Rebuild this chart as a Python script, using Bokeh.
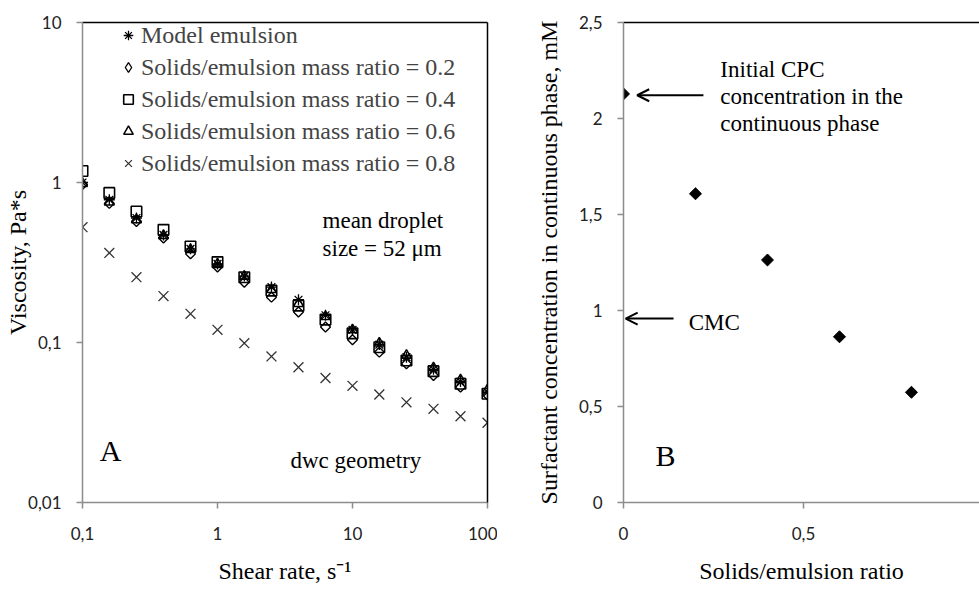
from bokeh.plotting import figure
from bokeh.models import (Range1d, FixedTicker, CustomJSTickFormatter, LogAxis, LinearAxis,
                          Legend, LegendItem, Label, Arrow, OpenHead)
from bokeh.layouts import row
from bokeh.embed import file_html
from bokeh.resources import INLINE
import numpy as np

# ---------------- data ----------------
shear_rate = [0.1, 0.158, 0.251, 0.398, 0.631, 1, 1.58, 2.51, 3.98, 6.31, 10, 15.8, 25.1, 39.8, 63.1, 100]
visc_model = [1.00, 0.78, 0.60, 0.47, 0.385, 0.31, 0.26, 0.222, 0.185, 0.148, 0.12, 0.097, 0.081, 0.068, 0.057, 0.049]
visc_r02 = [0.97, 0.74, 0.57, 0.45, 0.358, 0.296, 0.238, 0.192, 0.155, 0.125, 0.104, 0.087, 0.0736, 0.0622, 0.0526, 0.047]
visc_r04 = [1.18, 0.861, 0.659, 0.506, 0.398, 0.318, 0.256, 0.211, 0.170, 0.139, 0.114, 0.0934, 0.0772, 0.0662, 0.0552, 0.0478]
visc_r06 = [0.985, 0.753, 0.585, 0.466, 0.38, 0.31, 0.259, 0.214, 0.175, 0.145, 0.12, 0.099, 0.083, 0.0695, 0.0584, 0.0506]
visc_r08 = [0.526, 0.363, 0.256, 0.195, 0.151, 0.12, 0.099, 0.0818, 0.070, 0.060, 0.0536, 0.0473, 0.0423, 0.0385, 0.0346, 0.0315]

series_labels = ["Model emulsion",
                 "Solids/emulsion mass ratio = 0.2",
                 "Solids/emulsion mass ratio = 0.4",
                 "Solids/emulsion mass ratio = 0.6",
                 "Solids/emulsion mass ratio = 0.8"]

solids_ratio = [0, 0.2, 0.4, 0.6, 0.8]
surfactant_conc = [2.128, 1.608, 1.263, 0.863, 0.574]

x_ticks_a = [0.1, 1, 10, 100]
y_ticks_a = [0.01, 0.1, 1, 10]
x_ticks_b = [0, 0.5, 1]
y_ticks_b = [0, 0.5, 1, 1.5, 2, 2.5]

SERIF = "Liberation Serif"
SANS = "Lato"
AXIS_GRAY = "#8c8c8c"
fmt = CustomJSTickFormatter(code="return tick.toString().replace('.', ',');")


def style_axes(p, xt, yt, xstand, ystand, xlabstand, ylabstand):
    for ax in p.xaxis + p.yaxis:
        ax.axis_line_color = AXIS_GRAY
        ax.axis_line_width = 1.5
        ax.major_tick_line_color = AXIS_GRAY
        ax.major_tick_line_width = 1.5
        ax.major_tick_out = 6
        ax.major_tick_in = 0
        ax.minor_tick_line_color = None
        ax.major_label_text_font = SANS
        ax.major_label_text_font_size = "17px"
        ax.major_label_text_color = "#222222"
        ax.axis_label_text_font = SERIF
        ax.axis_label_text_font_size = "24px"
        ax.axis_label_text_font_style = "normal"
        ax.axis_label_text_color = "black"
        ax.formatter = fmt
    p.xaxis.ticker = FixedTicker(ticks=xt, minor_ticks=[])
    p.yaxis.ticker = FixedTicker(ticks=yt, minor_ticks=[])
    p.xaxis.major_label_standoff = xstand
    p.yaxis.major_label_standoff = ystand
    p.xaxis.axis_label_standoff = xlabstand
    p.yaxis.axis_label_standoff = ylabstand


def border_axis(cls, p, side):
    ax = cls(ticker=FixedTicker(ticks=[]), axis_line_color="black", axis_line_width=1.5,
             major_tick_line_color=None, minor_tick_line_color=None,
             major_label_text_font_size="0px", major_label_standoff=0,
             major_tick_out=0, major_tick_in=0)
    p.add_layout(ax, side)


H = 590

# ---------------- panel A ----------------
pa = figure(width=497, height=H, x_axis_type="log", y_axis_type="log",
            x_range=Range1d(0.1, 100), y_range=Range1d(0.01, 10),
            output_backend="svg", toolbar_location=None,
            min_border_left=82, min_border_right=10, min_border_top=22, min_border_bottom=H - 502,
            x_axis_label="Shear rate, s\u207b\u00b9", y_axis_label="Viscosity, Pa*s")
pa.grid.visible = False
pa.outline_line_color = None
style_axes(pa, x_ticks_a, y_ticks_a, 18, 15, 15, -6)
border_axis(LogAxis, pa, "above")
border_axis(LogAxis, pa, "right")

r_model = pa.scatter(shear_rate, visc_model, marker="asterisk", size=11, line_color="black", line_width=1.3)
r_02 = pa.scatter(shear_rate, visc_r02, marker="square", angle=np.pi / 4, size=7,
                  line_color="black", fill_color=None, line_width=1.4)
r_04 = pa.scatter(shear_rate, visc_r04, marker="square", size=10.5,
                  line_color="black", fill_color=None, line_width=1.6)
r_06 = pa.scatter(shear_rate, visc_r06, marker="triangle", size=10,
                  line_color="black", fill_color=None, line_width=1.5)
r_08 = pa.scatter(shear_rate, visc_r08, marker="x", size=14, line_color="#333333", line_width=1.3)
# legend-only glyph for the diamond series (legend glyphs ignore marker angle); NaN -> not drawn in plot
r_02_key = pa.scatter([float("nan")], [float("nan")], marker="diamond", size=10,
                      line_color="black", fill_color=None, line_width=1.3)

legend = Legend(items=[LegendItem(label=lab, renderers=[r]) for lab, r in
                       zip(series_labels, [r_model, r_02_key, r_04, r_06, r_08])],
                location=(34, 325), background_fill_alpha=0, border_line_color=None,
                label_text_font=SERIF, label_text_font_size="24px",
                glyph_width=24, glyph_height=28, label_height=28, label_standoff=1,
                spacing=4, padding=0, margin=0)
pa.add_layout(legend)

for txt, x, y, size in [("mean droplet", 6.0, 0.579, "23px"),
                        ("size = 52 \u03bcm", 6.0, 0.387, "23px"),
                        ("dwc geometry", 3.47, 0.0183, "23px"),
                        ("A", 0.134, 0.0211, "30px")]:
    pa.add_layout(Label(x=x, y=y, text=txt, text_font=SERIF, text_font_size=size,
                        text_baseline="middle", text_align="left", text_color="black"))

# ---------------- panel B ----------------
pb = figure(width=482, height=H, x_range=Range1d(0, 0.989), y_range=Range1d(0, 2.5),
            output_backend="svg", toolbar_location=None,
            min_border_left=126, min_border_right=0, min_border_top=22, min_border_bottom=H - 502,
            x_axis_label="Solids/emulsion ratio",
            y_axis_label="Surfactant concentration in continuous phase, mM")
pb.grid.visible = False
pb.outline_line_color = None
style_axes(pb, x_ticks_b, y_ticks_b, 18, 15, 15, 14)
border_axis(LinearAxis, pb, "above")

pb.scatter(solids_ratio, surfactant_conc, marker="square", angle=np.pi / 4, size=8.5,
           line_color="black", fill_color="black")

pb.add_layout(Arrow(end=OpenHead(size=12, line_width=2, line_color="black"),
                    x_start=0.222, y_start=2.121, x_end=0.038, y_end=2.121,
                    line_width=2, line_color="black"))
pb.add_layout(Arrow(end=OpenHead(size=12, line_width=2, line_color="black"),
                    x_start=0.139, y_start=0.958, x_end=0.006, y_end=0.958,
                    line_width=2, line_color="black"))

for txt, x, y, size in [("Initial CPC", 0.269, 2.257, "23px"),
                        ("concentration in the", 0.269, 2.114, "23px"),
                        ("continuous phase", 0.269, 1.973, "23px"),
                        ("CMC", 0.181, 0.939, "23px"),
                        ("B", 0.089, 0.243, "30px")]:
    pb.add_layout(Label(x=x, y=y, text=txt, text_font=SERIF, text_font_size=size,
                        text_baseline="middle", text_align="left", text_color="black"))

layout = row(pa, pb, spacing=0)
open("out.html", "w").write(file_html(layout, INLINE))
